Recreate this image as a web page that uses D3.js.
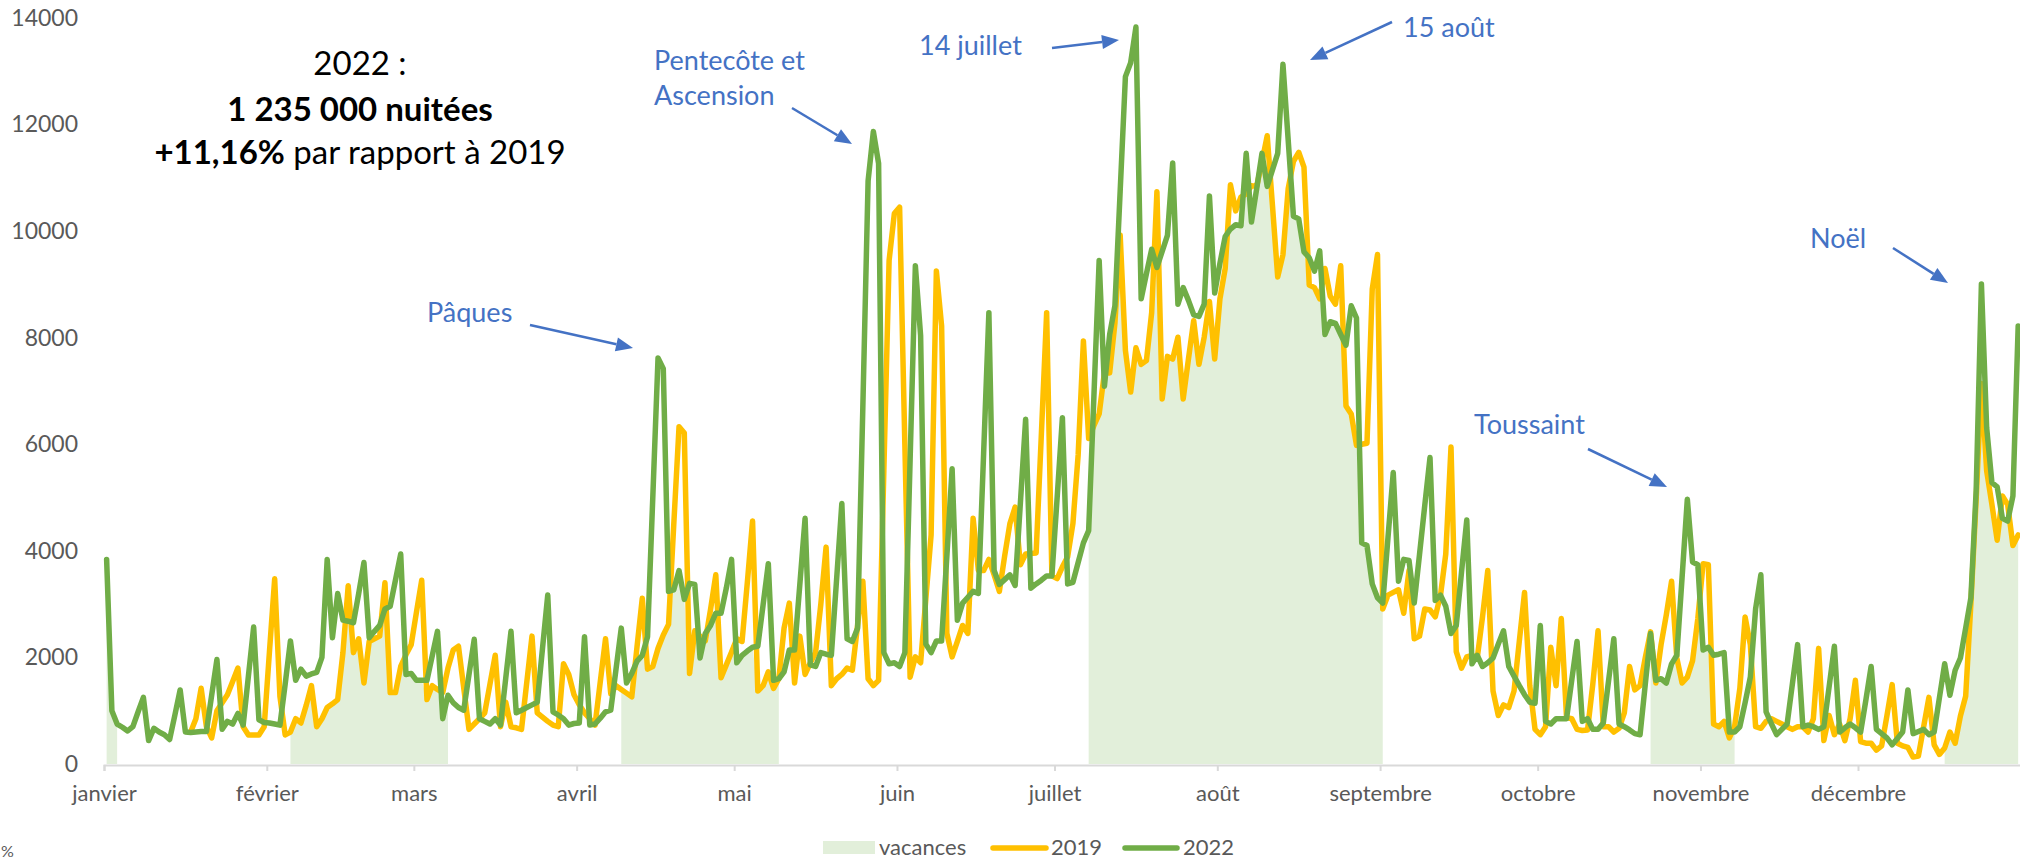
<!DOCTYPE html>
<html><head><meta charset="utf-8">
<script src="https://cdn.jsdelivr.net/npm/d3@7"></script>
<style>
html,body{margin:0;padding:0;background:#fff;}
svg{display:block;font-family:Lato,"Open Sans",sans-serif;}
</style></head>
<body>
<svg id="chart" width="2020" height="860"></svg>
<script>
// ---- data (day index 0 = 1 janvier) ----
const monthNames = ["janvier","février","mars","avril","mai","juin","juillet","août","septembre","octobre","novembre","décembre"];
const monthStartDays = [0,31,59,90,120,151,181,212,243,273,304,334];
const yTicks = [0,2000,4000,6000,8000,10000,12000,14000];
const vacationPeriods = [[0,2],[35,65],[98,128],[187,243],[294,310],[350,364]];

const values2022 = [
3840,1000,750,690,620,700,980,1250,440,670,600,550,460,920,1390,600,590,600,610,610,
1290,1960,650,800,750,950,730,1650,2570,830,780,770,750,730,1500,2310,1570,1780,1650,1690,
1720,2000,3840,2370,3200,2700,2680,2650,3200,3780,2370,2490,2600,2910,2960,3450,3940,1680,1700,1570,
1570,1570,2030,2490,850,1290,1150,1060,1010,1680,2340,850,800,750,850,730,1610,2490,960,1010,
1060,1110,1160,2170,3170,980,920,850,730,760,770,2390,730,750,860,980,1010,1780,2550,1520,
1700,1930,2040,2390,5000,7620,7420,3240,3270,3630,3090,3390,3370,1990,2450,2600,2830,2830,3300,3840,
1900,2040,2120,2190,2210,2980,3760,1570,1600,1730,2140,2140,3370,4610,1860,1830,2090,2060,2040,3460,
4890,2350,2300,2550,6700,10940,11870,11270,2090,1880,1900,1830,2090,5700,9350,8040,2250,2090,2310,2310,
3900,5540,2700,3020,3130,3240,3200,5830,8470,3630,3370,3460,3550,3350,4900,6470,3300,3380,3450,3530,
3530,5000,6500,3380,3410,3780,4150,4380,6900,9450,7090,8060,8600,10750,12900,13160,13830,8730,9200,9660,
9320,9620,9920,11280,8630,8940,8700,8430,8400,8630,10660,8840,9400,9900,10040,10120,10100,11460,10170,10800,
11460,10840,11150,11460,13130,11700,10280,10230,9610,9500,9250,9630,8060,8300,8270,8060,7860,8600,8370,4150,
4100,3380,3120,3020,4250,5470,3430,3840,3820,3020,3930,4850,5750,3070,3170,2960,2450,2600,3600,4580,
1880,2040,1830,1900,1990,2250,2500,1830,1650,1470,1300,1160,1140,2600,800,750,850,850,850,1580,
2300,800,850,650,650,770,1560,2350,750,700,640,570,550,1500,2450,1570,1600,1520,1880,2040,
3500,4970,3790,3740,2140,2190,2040,2060,2090,600,600,700,1150,1630,2910,3550,980,760,550,650,
750,1500,2240,700,730,700,650,700,1450,2210,600,680,750,680,600,1200,1830,650,570,490,
360,480,600,1390,570,610,650,550,600,1240,1880,1290,1760,1990,2550,3120,5130,9010,6310,5280,
5200,4610,4560,5030,8220
];

const values2019 = [
null,null,null,null,null,null,null,null,null,null,null,null,null,null,null,null,600,850,1420,700,
490,1000,1150,1300,1550,1800,700,545,545,545,700,2100,3475,1270,545,600,850,770,1100,1470,
700,850,1060,1130,1210,2090,3345,2090,2350,1520,2300,2350,2400,3400,1340,1340,1830,2050,2240,2850,
3450,1210,1470,1400,1340,1800,2140,2210,1430,650,750,850,960,1500,2040,700,1160,700,680,650,
1530,2400,960,880,800,730,700,1880,1680,1300,1110,960,850,730,1540,2350,1320,1470,1400,1330,
1260,2200,3110,1780,1830,2170,2420,2620,4500,6330,6210,1700,2500,2400,2310,2900,3550,1620,1860,2100,
2350,2300,3400,4560,1370,1470,1730,1420,1600,2550,3020,1520,2400,1680,1900,2090,3000,4070,1470,1600,
1680,1800,1760,2600,3430,1600,1470,1570,5500,9450,10330,10450,6000,1630,2010,1900,3100,4300,9250,8220,
2450,2010,2300,2600,2450,4610,3630,3630,3840,3550,3240,3900,4510,4820,3740,3940,3950,3960,6200,8470,
3530,3480,3700,3890,4510,5800,7940,6110,6350,6570,7340,7340,8270,9930,7760,6980,7810,7500,7570,8470,
10740,6850,7650,7600,8010,6850,7600,8320,7500,8010,8680,7600,8730,9300,10870,10380,10640,10700,10850,10840,
11300,11790,10480,9140,9560,10800,11310,11480,11200,8990,8940,8730,9300,8780,8630,9350,6720,6570,5980,6000,
6020,8910,9560,2910,3170,3220,3270,2830,3630,2350,2400,2910,2890,2760,3170,3940,5950,2110,1800,2010,
2040,1990,2760,3630,1370,910,1110,1060,1370,2300,3220,1470,650,550,700,2190,1470,2730,870,850,
650,630,640,1500,2500,700,700,600,670,960,1830,1390,1470,2000,2480,1520,2240,2800,3430,1990,
1520,1630,1940,2730,3760,3740,750,700,800,490,700,1420,2760,2240,700,670,800,850,800,750,
700,650,700,700,600,850,2170,440,910,550,750,440,850,1570,420,390,390,260,340,900,
1490,390,340,310,130,150,700,1250,360,180,300,600,390,900,1270,3020,4970,7140,5500,4870,
4200,5030,4870,4100,4300
];

const seriesNames = ["vacances","2019","2022"];
const seriesColors = {"vacances":"#E2EFDA","2019":"#FFC000","2022":"#70AD47"};

const summaryLines = ["2022 :","1 235 000 nuitées"];
const summaryPct = "+11,16%";
const summaryRest = " par rapport à 2019";

const annotations = [
  {lines:["Pâques"], tx:427, ty:322, from:[530,325], to:[633,348]},
  {lines:["Pentecôte et","Ascension"], tx:654, ty:70, from:[792,108], to:[852,144]},
  {lines:["14 juillet"], tx:919, ty:55, from:[1052,48], to:[1119,40]},
  {lines:["15 août"], tx:1403, ty:37, from:[1392,22], to:[1310,60]},
  {lines:["Toussaint"], tx:1474, ty:434, from:[1588,449], to:[1667,487]},
  {lines:["Noël"], tx:1810, ty:248, from:[1893,248], to:[1948,283]}
];

// ---- drawing ----
const svg = d3.select("#chart");
const x = d3.scaleLinear().domain([0,365]).range([104, 104+365*5.2515]);
const y = d3.scaleLinear().domain([0,14000]).range([764,18]);
const px = d => x(d + 0.5);

// shaded holidays
vacationPeriods.forEach(([a,b]) => {
  const ds = d3.range(a, b+1);
  const area = d3.area()
    .x(d => px(d))
    .y0(y(0))
    .y1(d => {
      const v22 = values2022[d], v19 = values2019[d];
      return y(v19 == null ? v22 : Math.min(v19, v22));
    });
  svg.append("path").datum(ds).attr("d", area).attr("fill", seriesColors["vacances"]);
});

// x axis
const xAxis = d3.axisBottom(x).tickValues(monthStartDays).tickSize(6)
  .tickFormat((d,i) => monthNames[i]);
const gx = svg.append("g").attr("transform","translate(0,765)").call(xAxis);
gx.select(".domain").attr("stroke","#D9D9D9").attr("stroke-width",2);
gx.selectAll(".tick line").attr("stroke","#D9D9D9").attr("stroke-width",2);
gx.selectAll(".tick text").attr("y",36).attr("dy",null)
  .attr("fill","#595959").style("font-size","22px").style("font-family","Lato");

// y axis
const yAxis = d3.axisLeft(y).tickValues(yTicks).tickSize(0).tickPadding(12).tickFormat(d3.format("d"));
const gy = svg.append("g").attr("transform","translate(90,0)").call(yAxis);
gy.select(".domain").remove();
gy.selectAll(".tick text").attr("fill","#595959").style("font-size","23px").style("font-family","Lato");

// lines
const line = d3.line().defined(d => d.v != null).x(d => px(d.i)).y(d => y(d.v));
svg.append("path").datum(values2019.map((v,i)=>({i,v})))
  .attr("d", line).attr("fill","none").attr("stroke",seriesColors["2019"])
  .attr("stroke-width",5.5).attr("stroke-linejoin","round").attr("stroke-linecap","round");
svg.append("path").datum(values2022.map((v,i)=>({i,v})))
  .attr("d", line).attr("fill","none").attr("stroke",seriesColors["2022"])
  .attr("stroke-width",5.5).attr("stroke-linejoin","round").attr("stroke-linecap","round");

// summary text
const st = svg.append("text").attr("text-anchor","middle").attr("fill","#000")
  .style("font-family","Lato").style("font-size","33px");
st.append("tspan").attr("x",360).attr("y",75).text(summaryLines[0]);
st.append("tspan").attr("x",360).attr("y",121).style("font-weight","bold").text(summaryLines[1]);
const l3 = st.append("tspan").attr("x",360).attr("y",164);
l3.append("tspan").style("font-weight","bold").text(summaryPct);
l3.append("tspan").text(summaryRest);

// annotations
const blue = "#4472C4";
annotations.forEach(a => {
  const t = svg.append("text").attr("fill",blue).style("font-family","Lato").style("font-size","27px");
  a.lines.forEach((l,k) => t.append("tspan").attr("x",a.tx).attr("y",a.ty + k*35).text(l));
  const [x1,y1] = a.from, [x2,y2] = a.to;
  const ang = Math.atan2(y2-y1, x2-x1);
  const L = 17, W = 7;
  const bx = x2 - L*Math.cos(ang), by = y2 - L*Math.sin(ang);
  svg.append("line").attr("x1",x1).attr("y1",y1).attr("x2",bx).attr("y2",by)
    .attr("stroke",blue).attr("stroke-width",2.5);
  const p = [[x2,y2],[bx - W*Math.sin(ang), by + W*Math.cos(ang)],[bx + W*Math.sin(ang), by - W*Math.cos(ang)]];
  svg.append("polygon").attr("points", p.map(q=>q.join(",")).join(" ")).attr("fill",blue);
});

// legend
const lg = svg.append("g").style("font-family","Lato").style("font-size","22px");
lg.append("rect").attr("x",823).attr("y",841).attr("width",52).attr("height",13).attr("fill",seriesColors["vacances"]);
lg.append("text").attr("x",879).attr("y",855).attr("fill","#595959").text(seriesNames[0]);
lg.append("line").attr("x1",993).attr("x2",1046).attr("y1",848).attr("y2",848)
  .attr("stroke",seriesColors["2019"]).attr("stroke-width",5.5).attr("stroke-linecap","round");
lg.append("text").attr("x",1051).attr("y",855).attr("fill","#595959").text(seriesNames[1]);
lg.append("line").attr("x1",1125).attr("x2",1177).attr("y1",848).attr("y2",848)
  .attr("stroke",seriesColors["2022"]).attr("stroke-width",5.5).attr("stroke-linecap","round");
lg.append("text").attr("x",1183).attr("y",855).attr("fill","#595959").text(seriesNames[2]);

// small "%" at bottom-left
svg.append("text").attr("x",1).attr("y",857).attr("fill","#595959")
  .style("font-family","Lato").style("font-size","16px").text("%");
</script>
</body></html>
